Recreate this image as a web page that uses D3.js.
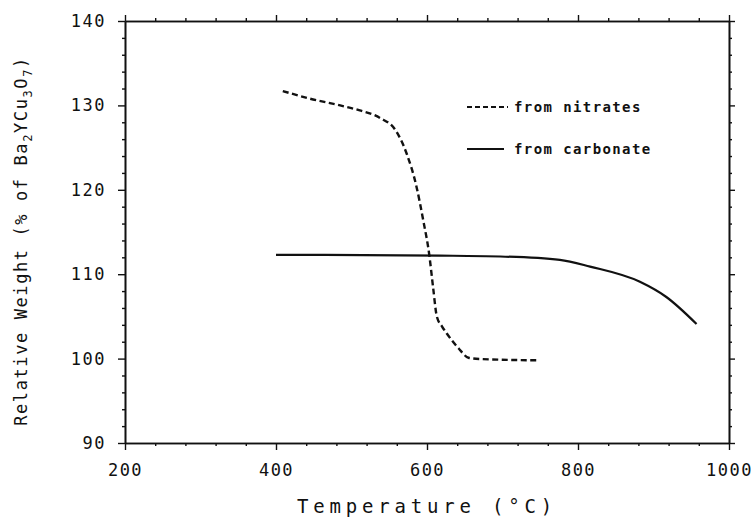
<!DOCTYPE html>
<html>
<head>
<meta charset="utf-8">
<script src="https://cdn.jsdelivr.net/npm/d3@7"></script>
<style>
  body { margin: 0; background: #fff; }
  text { font-family: "DejaVu Sans Mono", monospace; fill: #111; }
</style>
</head>
<body>
<div id="mainDiv"></div>
<script>
'use strict';

// temperatures (°C) and relative weights
var nitratesT = [409, 445, 485, 511, 538, 558, 573, 586, 595, 603, 608, 613, 620, 626, 642, 655, 670, 745];
var nitratesW = [131.7, 130.8, 130.0, 129.4, 128.5, 127.1, 124.3, 120.4, 116.4, 112.3, 108.5, 105.0, 103.8, 103.0, 101.2, 100.1, 99.95, 99.8];

var carbonateT = [400, 617, 697, 776, 816, 882, 917, 957];
var carbonateW = [112.3, 112.2, 112.1, 111.7, 110.9, 109.1, 107.3, 104.1];

var xTicks = [200, 400, 600, 800, 1000];
var yTicks = [90, 100, 110, 120, 130, 140];

var legendLabels = ['from nitrates', 'from carbonate'];

var myApp = {};

myApp.margens = { top: 21, left: 125, bottom: 79, right: 27 };
myApp.dimensoes = { largura: 604, altura: 422 };

myApp.run = function() {
    var m = myApp.margens, d = myApp.dimensoes;

    var svg = d3.select('#mainDiv').append('svg')
        .attr('width', 756)
        .attr('height', 522);

    var x = d3.scaleLinear().domain([200, 1000]).range([0, d.largura]);
    var y = d3.scaleLinear().domain([90, 140]).range([d.altura, 0]);

    var g = svg.append('g')
        .attr('transform', 'translate(' + m.left + ',' + m.top + ')');

    var minorX = d3.range(200, 1001, 40).filter(function(v) { return v % 200 !== 0; });
    var minorY = d3.range(90, 141, 2).filter(function(v) { return v % 10 !== 0; });

    // minor ticks, all four sides
    g.append('g').attr('transform', 'translate(0,' + d.altura + ')')
        .call(d3.axisBottom(x).tickValues(minorX).tickSize(3).tickFormat('').tickSizeOuter(0));
    g.append('g')
        .call(d3.axisTop(x).tickValues(minorX).tickSize(3).tickFormat('').tickSizeOuter(0));
    g.append('g')
        .call(d3.axisLeft(y).tickValues(minorY).tickSize(3).tickFormat('').tickSizeOuter(0));
    g.append('g').attr('transform', 'translate(' + d.largura + ',0)')
        .call(d3.axisRight(y).tickValues(minorY).tickSize(3).tickFormat('').tickSizeOuter(0));

    // major ticks
    var xAxis = g.append('g').attr('class', 'xAxis')
        .attr('transform', 'translate(0,' + d.altura + ')')
        .call(d3.axisBottom(x).tickValues(xTicks).tickSize(7).tickPadding(14)
            .tickFormat(d3.format('d')).tickSizeOuter(0));
    g.append('g')
        .call(d3.axisTop(x).tickValues(xTicks).tickSize(6).tickFormat('').tickSizeOuter(0));
    g.append('g').attr('class', 'yAxis')
        .call(d3.axisLeft(y).tickValues(yTicks).tickSize(7).tickPadding(12)
            .tickFormat(d3.format('d')).tickSizeOuter(0));
    g.append('g').attr('transform', 'translate(' + d.largura + ',0)')
        .call(d3.axisRight(y).tickValues(yTicks).tickSize(6).tickFormat('').tickSizeOuter(0));

    g.selectAll('.domain').attr('stroke', '#111').attr('stroke-width', 1.6);
    g.selectAll('.tick line').attr('stroke', '#111').attr('stroke-width', 1.4);
    g.selectAll('.tick text')
        .attr('font-family', '"DejaVu Sans Mono", monospace')
        .attr('font-size', 17)
        .attr('letter-spacing', 1.5)
        .attr('fill', '#111');
    xAxis.selectAll('.tick text').attr('dy', '0.71em');

    // axis titles
    svg.append('text')
        .attr('x', m.left + x(600))
        .attr('y', 513)
        .attr('text-anchor', 'middle')
        .attr('font-size', 19)
        .attr('letter-spacing', 4.8)
        .text('Temperature (°C)');

    var yl = svg.append('text')
        .attr('transform', 'translate(27,241) rotate(-90)')
        .attr('text-anchor', 'middle')
        .attr('font-size', 17)
        .attr('letter-spacing', 1.6);
    yl.append('tspan').text('Relative Weight (% of Ba');
    yl.append('tspan').attr('font-size', 12).attr('dy', 5).text('2');
    yl.append('tspan').attr('dy', -5).text('YCu');
    yl.append('tspan').attr('font-size', 12).attr('dy', 5).text('3');
    yl.append('tspan').attr('dy', -5).text('O');
    yl.append('tspan').attr('font-size', 12).attr('dy', 5).text('7');
    yl.append('tspan').attr('dy', -5).text(')');

    // curves
    var line = d3.line()
        .x(function(p) { return x(p[0]); })
        .y(function(p) { return y(p[1]); })
        .curve(d3.curveMonotoneX);

    g.append('path')
        .datum(d3.zip(carbonateT, carbonateW))
        .attr('fill', 'none')
        .attr('stroke', '#111')
        .attr('stroke-width', 2.2)
        .attr('d', line);

    g.append('path')
        .datum(d3.zip(nitratesT, nitratesW))
        .attr('fill', 'none')
        .attr('stroke', '#111')
        .attr('stroke-width', 2.4)
        .attr('stroke-dasharray', '6,3.5')
        .attr('d', line);

    // legend
    var leg = svg.append('g');
    leg.append('line')
        .attr('x1', 467).attr('x2', 508).attr('y1', 107).attr('y2', 107)
        .attr('stroke', '#111').attr('stroke-width', 2).attr('stroke-dasharray', '5,3');
    leg.append('line')
        .attr('x1', 467).attr('x2', 504).attr('y1', 149).attr('y2', 149)
        .attr('stroke', '#111').attr('stroke-width', 2.2);
    leg.selectAll('text.lbl')
        .data(legendLabels)
        .enter()
        .append('text')
        .attr('class', 'lbl')
        .attr('x', 514)
        .attr('y', function(t, i) { return 112 + i * 42; })
        .attr('font-size', 14)
        .attr('font-weight', 'bold')
        .attr('letter-spacing', 1.4)
        .text(function(t) { return t; });
};

window.onload = function() {
    myApp.run();
};
</script>
</body>
</html>
